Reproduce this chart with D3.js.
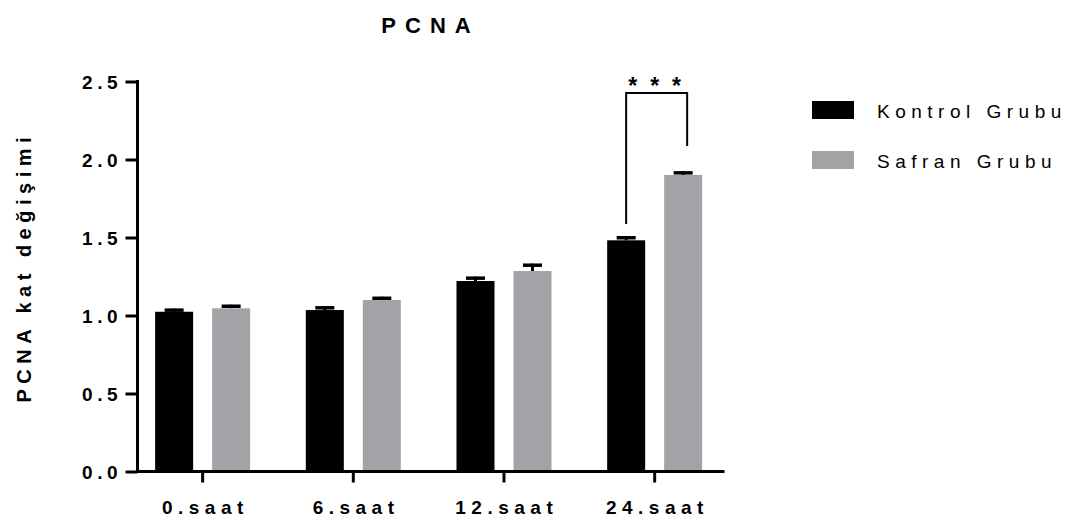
<!DOCTYPE html>
<html>
<head>
<meta charset="utf-8">
<script src="https://cdn.jsdelivr.net/npm/d3@7"></script>
<style>
  body { margin: 0; background: #fff; }
  svg { display: block; font-family: "Liberation Sans", Arial, sans-serif; }
</style>
</head>
<body>
<script>
// data
const categories = ['0.saat', '6.saat', '12.saat', '24.saat'];
const groups = ['Kontrol Grubu', 'Safran Grubu'];
const kontrolMean = [1.024, 1.035, 1.221, 1.482];
const kontrolErr = [0.020, 0.024, 0.028, 0.026];
const safranMean = [1.046, 1.099, 1.285, 1.901];
const safranErr = [0.023, 0.021, 0.047, 0.023];
const yTicks = [0, 0.5, 1.0, 1.5, 2.0, 2.5];
const bracketTop = 2.426, bracketLeftEnd = 1.587, bracketRightEnd = 2.087;

const width = 1082, height = 523;
const colors = ['#000000', '#a3a2a7'];

const svg = d3.select('body').append('svg')
	.attr('width', width)
	.attr('height', height);

const y = d3.scaleLinear()
	.domain([0, 2.5])
	.range([471.5, 81.5]);

const x = d3.scaleBand()
	.domain(categories)
	.range([127.3, 730])
	.padding(0);

const xInner = d3.scaleBand()
	.domain(groups)
	.range([x.bandwidth() / 2 - 47.5, x.bandwidth() / 2 + 47.5])
	.paddingInner(1 / 3)
	.paddingOuter(0);

const rows = [];
categories.forEach((c, i) => {
	rows.push({ cat: c, grp: groups[0], mean: kontrolMean[i], err: kontrolErr[i], color: colors[0] });
	rows.push({ cat: c, grp: groups[1], mean: safranMean[i], err: safranErr[i], color: colors[1] });
});

const cx = d => x(d.cat) + xInner(d.grp) + xInner.bandwidth() / 2;

// error bars (upper only) drawn under the bars
const err = svg.append('g').attr('class', 'errors');
err.selectAll('line.v')
	.data(rows)
	.join('line')
	.attr('class', 'v')
	.attr('x1', cx).attr('x2', cx)
	.attr('y1', d => y(d.mean))
	.attr('y2', d => y(d.mean + d.err))
	.attr('stroke', '#000')
	.attr('stroke-width', 3);
err.selectAll('line.cap')
	.data(rows)
	.join('line')
	.attr('class', 'cap')
	.attr('x1', d => cx(d) - 9.5).attr('x2', d => cx(d) + 9.5)
	.attr('y1', d => y(d.mean + d.err) + 1.5)
	.attr('y2', d => y(d.mean + d.err) + 1.5)
	.attr('stroke', '#000')
	.attr('stroke-width', 3.5);

svg.append('g').attr('class', 'bars')
	.selectAll('rect')
	.data(rows)
	.join('rect')
	.attr('x', d => x(d.cat) + xInner(d.grp))
	.attr('width', xInner.bandwidth())
	.attr('y', d => y(d.mean))
	.attr('height', d => y(0) - y(d.mean))
	.attr('fill', d => d.color);

// y axis
const yAxis = svg.append('g')
	.attr('transform', 'translate(137.5,0)')
	.call(d3.axisLeft(y).tickValues(yTicks).tickFormat(d3.format('.1f')).tickSize(12).tickPadding(0));
yAxis.select('.domain').attr('d', `M0,${y(2.5) - 1.5}V${y(0) + 1.5}`).attr('stroke-width', 3);
yAxis.selectAll('.tick line').attr('stroke-width', 3);
yAxis.selectAll('.tick text')
	.attr('x', -20 + 4.5)
	.attr('dy', '0.36em')
	.attr('font-size', 19)
	.attr('font-weight', 'bold')
	.attr('letter-spacing', 4.5)
	.attr('fill', '#000');

// x axis
const xAxis = svg.append('g')
	.attr('transform', `translate(0,${y(0)})`)
	.call(d3.axisBottom(x).tickSize(11).tickPadding(0));
xAxis.select('.domain').attr('d', 'M136,0H724.5').attr('stroke-width', 3);
xAxis.selectAll('.tick line').attr('stroke-width', 3);
xAxis.selectAll('.tick text')
	.attr('y', 42.5)
	.attr('dy', 0)
	.attr('dx', 2.75)
	.attr('font-size', 19)
	.attr('font-weight', 'bold')
	.attr('letter-spacing', 5.5)
	.attr('fill', '#000');

// significance bracket
const bx1 = x('24.saat') + xInner(groups[0]) + xInner.bandwidth() / 2;
const bx2 = x('24.saat') + xInner(groups[1]) + xInner.bandwidth() / 2 + 4;
svg.append('path')
	.attr('d', `M${bx1},${y(bracketTop)}V${y(bracketLeftEnd)}M${bx1 - 1},${y(bracketTop)}H${bx2}V${y(bracketRightEnd)}`)
	.attr('fill', 'none')
	.attr('stroke', '#000')
	.attr('stroke-width', 2);
svg.append('text')
	.attr('x', (bx1 + bx2) / 2 - 2 + 6.5)
	.attr('y', y(bracketTop) + 1)
	.attr('text-anchor', 'middle')
	.attr('font-size', 23)
	.attr('font-weight', 'bold')
	.attr('letter-spacing', 13)
	.text('***');

// title
svg.append('text')
	.attr('x', 426 + 4.5)
	.attr('y', 33)
	.attr('text-anchor', 'middle')
	.attr('font-size', 22)
	.attr('font-weight', 'bold')
	.attr('letter-spacing', 9)
	.text('PCNA');

// y axis title
svg.append('text')
	.attr('transform', 'translate(31,270) rotate(-90)')
	.attr('text-anchor', 'middle')
	.attr('dx', 2.75)
	.attr('font-size', 20)
	.attr('font-weight', 'bold')
	.attr('letter-spacing', 5.5)
	.text('PCNA kat değişimi');

// legend
const legend = svg.append('g').attr('class', 'legend')
	.selectAll('g')
	.data(groups)
	.join('g')
	.attr('transform', (d, i) => `translate(812,${110 + i * 50})`);
legend.append('rect')
	.attr('x', 0).attr('y', -9)
	.attr('width', 42).attr('height', 18)
	.attr('fill', (d, i) => colors[i]);
legend.append('text')
	.attr('x', 65)
	.attr('y', 8)
	.attr('font-size', 19)
	.attr('letter-spacing', 5.5)
	.attr('fill', '#000')
	.text(d => d);
</script>
</body>
</html>
